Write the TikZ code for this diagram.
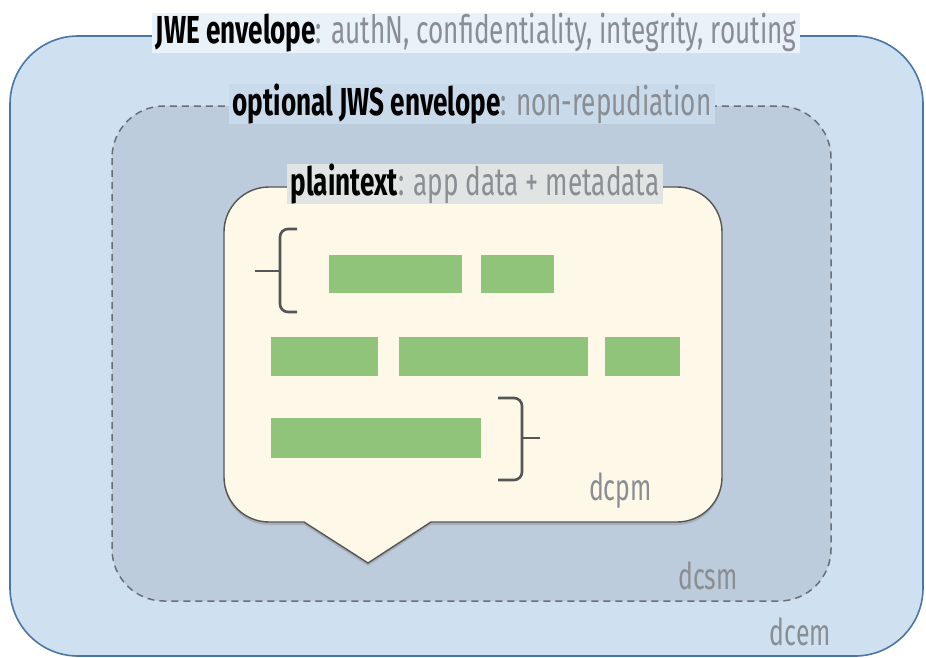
\documentclass[tikz,border=0pt]{standalone}
\usepackage{fontspec}
\setmainfont[FakeStretch=0.67]{Fira Sans}
\usetikzlibrary{shadows}
\definecolor{outerfill}{HTML}{CFE0F1}
\definecolor{outerline}{HTML}{4A76A8}
\definecolor{midfill}{HTML}{BCCCDD}
\definecolor{midline}{HTML}{6A6F76}
\definecolor{creamfill}{HTML}{FDF8E8}
\definecolor{innerline}{HTML}{555555}
\definecolor{barfill}{HTML}{8FC47A}
\definecolor{graytext}{HTML}{8A8E93}
\definecolor{braceline}{HTML}{555555}
\tikzset{
  lbl/.style={font=\fontsize{39}{39}\selectfont, inner xsep=4pt, inner ysep=0pt, text=graytext},
  dclbl/.style={font=\fontsize{37}{37}\selectfont, text=graytext, inner sep=0pt},
  bar/.style={fill=barfill, draw=none},
  brace/.style={draw=braceline, line width=2.6pt, rounded corners=8pt},
}
\begin{document}
\begin{tikzpicture}[x=1pt,y=-1pt]
\useasboundingbox (0,0) rectangle (926,657);
\fill[white] (0,0) rectangle (926,657);
% outer JWE envelope
\draw[fill=outerfill, draw=outerline, line width=1.6pt, rounded corners=68pt]
  (10,36) rectangle (923,656);
% middle dashed JWS envelope
\draw[fill=midfill, draw=midline, line width=1.5pt, dash pattern=on 7pt off 5pt, rounded corners=52pt]
  (112,106) rectangle (831,601);
% inner plaintext callout
\draw[fill=creamfill, draw=innerline, line width=1.4pt,
      drop shadow={opacity=0.35, shadow xshift=0pt, shadow yshift=-3pt}]
  (269,187) -- (677,187) arc[start angle=90, end angle=0, radius=45pt]
  -- (722,477) arc[start angle=0, end angle=-90, radius=45pt]
  -- (431,522) -- (368,563) -- (304,522)
  -- (269,522) arc[start angle=-90, end angle=-180, radius=45pt]
  -- (224,232) arc[start angle=180, end angle=90, radius=45pt] -- cycle;
% labels on borders
\node[lbl, fill=white!55!outerfill] (jwe) at (476,33)
  {\textcolor{black}{\textbf{JWE envelope}}: authN, confidentiality, integrity, routing};
\node[lbl, fill=outerfill!70!midfill] (jws) at (472,104)
  {\textcolor{black}{\textbf{optional JWS envelope}}: non-repudiation};
\node[lbl, fill=creamfill!55!midfill] (pt) at (475,184)
  {\textcolor{black}{\textbf{plaintext}}: app data + metadata};
% corner labels
\node[dclbl, anchor=south east] (dcpm) at (652,509) {dcpm};
\node[dclbl, anchor=south east] (dcsm) at (738,590) {dcsm};
\node[dclbl, anchor=south east] (dcem) at (831,646) {dcem};
% green bars
\fill[bar] (329,255) rectangle (462,293);
\fill[bar] (481,255) rectangle (554,293);
\fill[bar] (271,337) rectangle (378,376);
\fill[bar] (399,337) rectangle (588,376);
\fill[bar] (605,337) rectangle (680,376);
\fill[bar] (271,418) rectangle (481,458);
% braces
\coordinate (lb1) at (297,229);
\coordinate (lb2) at (297,312);
\draw[brace] (lb1) -- (280,229) -- (280,312) -- (lb2);
\draw[brace, rounded corners=0pt] (255,271) -- (280,271);
\coordinate (rb1) at (498,398);
\coordinate (rb2) at (498,480);
\draw[brace] (rb1) -- (522,398) -- (522,480) -- (rb2);
\draw[brace, rounded corners=0pt] (522,438) -- (540,438);
\end{tikzpicture}
\end{document}
